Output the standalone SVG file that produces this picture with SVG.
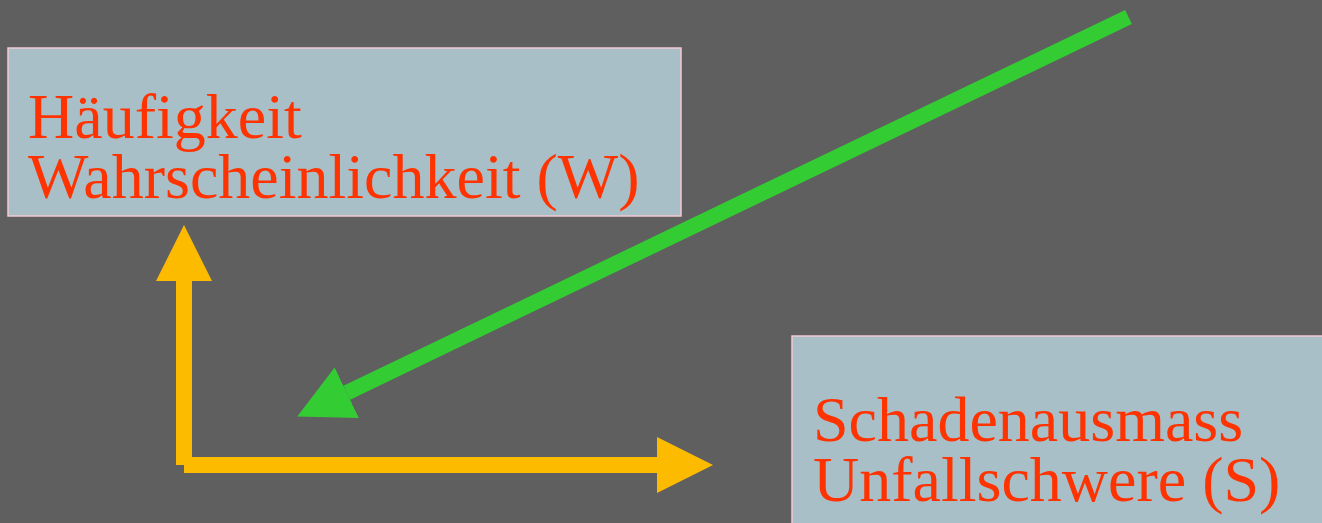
<svg xmlns="http://www.w3.org/2000/svg" width="1322" height="523" viewBox="0 0 1322 523">
  <style>
    .box { fill: #a8bfc8; stroke: #f2c9d2; stroke-width: 1.5; }
    .label { font-family: "Liberation Serif", "Times New Roman", serif; font-size: 64px; fill: #ff3300; }
    .axis { stroke: #fdbb00; stroke-width: 16; fill: none; }
    .trend { stroke: #33cc33; stroke-width: 15.5; fill: none; }
  </style>
  <defs>
    <marker id="headYellow" markerUnits="userSpaceOnUse" viewBox="0 0 56 56" markerWidth="56" markerHeight="56" refX="0" refY="28" orient="auto">
      <path d="M0,0 L56,28 L0,56 z" fill="#fdbb00"/>
    </marker>
    <marker id="headGreen" markerUnits="userSpaceOnUse" viewBox="0 0 55 56" markerWidth="55" markerHeight="56" refX="0" refY="28" orient="auto">
      <path d="M0,0 L55,28 L0,56 z" fill="#33cc33"/>
    </marker>
  </defs>

  <rect width="1322" height="523" fill="#5f5f5f"/>

  <g id="node-haeufigkeit">
    <rect class="box" x="8" y="48" width="673" height="168"/>
    <text class="label" x="28" y="138">Häufigkeit</text>
    <text class="label" x="28" y="198">Wahrscheinlichkeit (W)</text>
  </g>

  <g id="node-schadenausmass">
    <rect class="box" x="792" y="336" width="540" height="200"/>
    <text class="label" x="813" y="441">Schadenausmass</text>
    <text class="label" x="813" y="501">Unfallschwere (S)</text>
  </g>

  <g id="connectors">
    <line class="axis" x1="184" y1="465" x2="184" y2="281" marker-end="url(#headYellow)"/>
    <line class="axis" x1="184" y1="465" x2="657" y2="465" marker-end="url(#headYellow)"/>
    <line class="trend" x1="1128.5" y1="17" x2="346.8" y2="392.7" marker-end="url(#headGreen)"/>
  </g>
</svg>
